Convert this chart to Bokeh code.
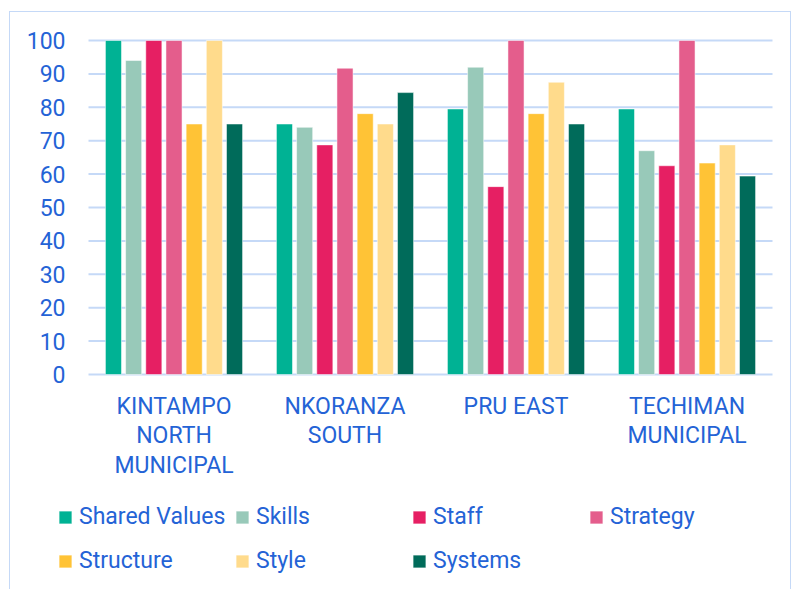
from bokeh.plotting import figure
from bokeh.models import Range1d, Legend, LegendItem, ColumnDataSource
from bokeh.core.properties import value
from bokeh.transform import dodge
from bokeh.embed import file_html
from bokeh.resources import INLINE

districts = ["KINTAMPO\nNORTH\nMUNICIPAL", "NKORANZA\nSOUTH", "PRU EAST", "TECHIMAN\nMUNICIPAL"]
series = ["Shared Values", "Skills", "Staff", "Strategy", "Structure", "Style", "Systems"]
shared_values = [100, 75, 79.5, 79.5]
skills = [94, 74, 92, 67]
staff = [100, 68.75, 56.25, 62.5]
strategy = [100, 91.7, 100, 100]
structure = [75, 78.1, 78.1, 63.3]
style = [100, 75, 87.5, 68.75]
systems = [75, 84.4, 75, 59.4]
colors = ["#00b294", "#98c9b9", "#e61f63", "#e45d8c", "#ffc336", "#ffdb8c", "#006b5a"]
y_ticks = [0, 10, 20, 30, 40, 50, 60, 70, 80, 90, 100]

values = [shared_values, skills, staff, strategy, structure, style, systems]
pos = [i + 0.5 for i in range(len(districts))]
data = {"x": pos, "d": districts}
for i, v in enumerate(values):
    data["s%d" % i] = v
src = ColumnDataSource(data)

TXT = "#2463d6"
GRID = "#c5d9f7"
FONT = value("Roboto")

# layout in canvas pixels
W, H = 782, 580
PL, PR = 78, 762          # plot area left/right
PT, PB = 28, 362          # y=100 and y=0 rows
ppx = (PR - PL) / 4.0
ppy = (PB - PT) / 100.0

p = figure(x_range=Range1d(-PL / ppx, 4 + (W - PR) / ppx),
           y_range=Range1d(-(H - PB) / ppy, 100 + PT / ppy),
           width=W, height=H, output_backend="svg", toolbar_location=None,
           min_border=0, min_border_left=0, min_border_right=0,
           min_border_top=0, min_border_bottom=0)
p.styles = {"margin-left": "9px", "margin-top": "11px", "border": "1px solid " + GRID}
p.outline_line_color = None
p.background_fill_color = "white"
p.xaxis.visible = False
p.yaxis.visible = False
p.xgrid.visible = False
p.ygrid.visible = False

# gridlines
p.segment(x0=0, x1=4, y0=y_ticks, y1=y_ticks, line_color=GRID, line_width=2)

pitch = 0.118
renderers = []
for i in range(7):
    r = p.vbar(x=dodge("x", (i - 3) * pitch), top="s%d" % i, width=0.094,
               source=src, fill_color=colors[i], line_color="white", line_alpha=0.5, line_width=1)
    renderers.append(r)

# y tick labels
p.text(x=0, y=y_ticks, text=[str(t) for t in y_ticks], x_offset=-23,
       text_align="right", text_baseline="middle", text_font=FONT,
       text_font_size="23px", text_color=TXT)

# category labels
p.text(x="x", y=0, text="d", source=src, y_offset=18, text_align="center",
       text_baseline="top", text_font=FONT, text_font_size="23px",
       text_color=TXT, text_line_height=1.1)

items = [LegendItem(label=s, renderers=[r]) for s, r in zip(series, renderers)]
lg = Legend(items=items, location=(47, 12), orientation="horizontal", ncols=4,
            padding=0, margin=0, spacing=5, border_line_color=None,
            background_fill_alpha=0, glyph_width=16, glyph_height=16,
            label_standoff=6, label_text_font="Roboto", label_text_font_size="23px",
            label_text_color=TXT, label_height=39, label_width=150)
p.add_layout(lg, "center")

open("out.html", "w").write(file_html(p, INLINE))
